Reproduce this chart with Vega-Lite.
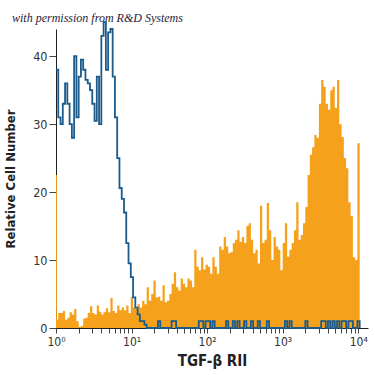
{
  "$schema": "https://vega.github.io/schema/vega-lite/v6.json",
  "width": 312,
  "height": 299,
  "autosize": {"type": "none"},
  "padding": {"left": 56, "top": 29, "right": 7, "bottom": 47},
  "background": "white",
  "title": {
    "text": "with permission from R&D Systems",
    "anchor": "start",
    "frame": "group",
    "dx": -44,
    "offset": -18,
    "baseline": "bottom",
    "font": "Liberation Serif",
    "fontStyle": "italic",
    "fontWeight": "normal",
    "fontSize": 12,
    "color": "#1c1c3c"
  },
  "config": {"view": {"stroke": null}},
  "data": {
    "values": [
      {"l": 0, "o": 22.5, "b": 38},
      {"l": 0.012, "o": 1.2, "b": 38},
      {"l": 0.03, "o": 2.2, "b": 31},
      {"l": 0.06, "o": 2.2, "b": 30},
      {"l": 0.09, "o": 2.5, "b": 33},
      {"l": 0.12, "o": 1.2, "b": 36},
      {"l": 0.15, "o": 1.5, "b": 33},
      {"l": 0.18, "o": 2.3, "b": 30},
      {"l": 0.21, "o": 2, "b": 28},
      {"l": 0.24, "o": 2.8, "b": 40},
      {"l": 0.27, "o": 1, "b": 31},
      {"l": 0.3, "o": 0.2, "b": 37},
      {"l": 0.33, "o": 0.3, "b": 39.5},
      {"l": 0.36, "o": 1.4, "b": 38},
      {"l": 0.39, "o": 1.5, "b": 36.5},
      {"l": 0.42, "o": 2.2, "b": 36},
      {"l": 0.45, "o": 3.2, "b": 35},
      {"l": 0.48, "o": 2.2, "b": 33},
      {"l": 0.51, "o": 2, "b": 30.5},
      {"l": 0.54, "o": 3.3, "b": 37},
      {"l": 0.57, "o": 2.4, "b": 30},
      {"l": 0.6, "o": 2, "b": 43},
      {"l": 0.63, "o": 2.3, "b": 45},
      {"l": 0.66, "o": 2.9, "b": 38},
      {"l": 0.69, "o": 2.3, "b": 43.5},
      {"l": 0.72, "o": 4.4, "b": 44},
      {"l": 0.75, "o": 2.5, "b": 37},
      {"l": 0.78, "o": 2.2, "b": 31},
      {"l": 0.81, "o": 3.3, "b": 25},
      {"l": 0.84, "o": 2.6, "b": 20.6},
      {"l": 0.87, "o": 3, "b": 19},
      {"l": 0.9, "o": 2.6, "b": 17},
      {"l": 0.93, "o": 3.3, "b": 12.5},
      {"l": 0.96, "o": 2.2, "b": 9.5},
      {"l": 0.99, "o": 4.6, "b": 7.5},
      {"l": 1.02, "o": 3, "b": 4.5},
      {"l": 1.05, "o": 2.8, "b": 3},
      {"l": 1.08, "o": 3.5, "b": 2},
      {"l": 1.11, "o": 3, "b": 1},
      {"l": 1.14, "o": 4, "b": 1},
      {"l": 1.17, "o": 3.5, "b": 0.5},
      {"l": 1.2, "o": 6, "b": 0},
      {"l": 1.23, "o": 4, "b": 0},
      {"l": 1.26, "o": 5, "b": 0},
      {"l": 1.29, "o": 7, "b": 0},
      {"l": 1.32, "o": 4.5, "b": 0},
      {"l": 1.35, "o": 4.6, "b": 1},
      {"l": 1.38, "o": 4, "b": 0},
      {"l": 1.41, "o": 6.3, "b": 0},
      {"l": 1.44, "o": 3.8, "b": 0},
      {"l": 1.47, "o": 4, "b": 0},
      {"l": 1.5, "o": 5, "b": 0},
      {"l": 1.53, "o": 6.5, "b": 1},
      {"l": 1.56, "o": 8.2, "b": 1},
      {"l": 1.59, "o": 6, "b": 0},
      {"l": 1.62, "o": 5.5, "b": 0},
      {"l": 1.65, "o": 7.3, "b": 0},
      {"l": 1.68, "o": 6.5, "b": 0},
      {"l": 1.71, "o": 6, "b": 0},
      {"l": 1.74, "o": 7.3, "b": 0},
      {"l": 1.77, "o": 7, "b": 0},
      {"l": 1.8, "o": 6, "b": 0},
      {"l": 1.83, "o": 11.5, "b": 0},
      {"l": 1.86, "o": 9, "b": 0},
      {"l": 1.89, "o": 8.5, "b": 1},
      {"l": 1.92, "o": 10.4, "b": 1},
      {"l": 1.95, "o": 8.6, "b": 0},
      {"l": 1.98, "o": 9.3, "b": 1},
      {"l": 2.01, "o": 9, "b": 1},
      {"l": 2.04, "o": 8, "b": 0},
      {"l": 2.07, "o": 10.4, "b": 1},
      {"l": 2.1, "o": 9, "b": 0},
      {"l": 2.13, "o": 8, "b": 0},
      {"l": 2.16, "o": 12, "b": 0},
      {"l": 2.19, "o": 11.5, "b": 0},
      {"l": 2.22, "o": 13.4, "b": 0},
      {"l": 2.25, "o": 12, "b": 1},
      {"l": 2.28, "o": 11, "b": 0},
      {"l": 2.31, "o": 11.2, "b": 0},
      {"l": 2.34, "o": 12.5, "b": 1},
      {"l": 2.37, "o": 13, "b": 0},
      {"l": 2.4, "o": 14.4, "b": 1},
      {"l": 2.43, "o": 12.7, "b": 0},
      {"l": 2.46, "o": 13.4, "b": 0},
      {"l": 2.49, "o": 12.5, "b": 1},
      {"l": 2.52, "o": 15, "b": 0},
      {"l": 2.55, "o": 15.4, "b": 0},
      {"l": 2.58, "o": 13, "b": 1},
      {"l": 2.61, "o": 11, "b": 0},
      {"l": 2.64, "o": 11.5, "b": 0},
      {"l": 2.67, "o": 9.5, "b": 1},
      {"l": 2.7, "o": 18, "b": 0},
      {"l": 2.73, "o": 12.5, "b": 0},
      {"l": 2.76, "o": 13, "b": 0},
      {"l": 2.79, "o": 18.4, "b": 1},
      {"l": 2.82, "o": 14.4, "b": 0},
      {"l": 2.85, "o": 10, "b": 0},
      {"l": 2.88, "o": 13.4, "b": 0},
      {"l": 2.91, "o": 12, "b": 0},
      {"l": 2.94, "o": 11.5, "b": 0},
      {"l": 2.97, "o": 8.5, "b": 0},
      {"l": 3, "o": 12.5, "b": 0},
      {"l": 3.03, "o": 15.4, "b": 1},
      {"l": 3.06, "o": 10.5, "b": 0},
      {"l": 3.09, "o": 11.5, "b": 1},
      {"l": 3.12, "o": 12.5, "b": 0},
      {"l": 3.15, "o": 14.4, "b": 0},
      {"l": 3.18, "o": 18.5, "b": 0},
      {"l": 3.21, "o": 13, "b": 0},
      {"l": 3.24, "o": 13.7, "b": 0},
      {"l": 3.27, "o": 15.4, "b": 0},
      {"l": 3.3, "o": 17.8, "b": 1},
      {"l": 3.33, "o": 22.5, "b": 0},
      {"l": 3.36, "o": 25.5, "b": 0},
      {"l": 3.39, "o": 26.6, "b": 0},
      {"l": 3.42, "o": 28.4, "b": 0},
      {"l": 3.45, "o": 28, "b": 0},
      {"l": 3.48, "o": 33, "b": 0},
      {"l": 3.51, "o": 36.5, "b": 1},
      {"l": 3.54, "o": 35.5, "b": 1},
      {"l": 3.57, "o": 33, "b": 0},
      {"l": 3.6, "o": 32.1, "b": 1},
      {"l": 3.63, "o": 35, "b": 0},
      {"l": 3.66, "o": 35.5, "b": 1},
      {"l": 3.69, "o": 32.4, "b": 0},
      {"l": 3.72, "o": 36.5, "b": 1},
      {"l": 3.75, "o": 30, "b": 0},
      {"l": 3.78, "o": 28.1, "b": 1},
      {"l": 3.81, "o": 25, "b": 1},
      {"l": 3.84, "o": 23.5, "b": 0},
      {"l": 3.87, "o": 18.5, "b": 1},
      {"l": 3.9, "o": 16.5, "b": 1},
      {"l": 3.93, "o": 10.4, "b": 0},
      {"l": 3.96, "o": 10, "b": 0},
      {"l": 3.99, "o": 27.2, "b": 1},
      {"l": 4.02, "o": 0, "b": 0}
    ]
  },
  "encoding": {
    "x": {
      "field": "l",
      "type": "quantitative",
      "scale": {"domain": [0, 4.13], "nice": false, "zero": false},
      "axis": {
        "title": "TGF-β RII",
        "titleFont": "Liberation Sans Narrow, DejaVu Sans Condensed, sans-serif",
        "titleFontSize": 15,
        "titleFontWeight": "bold",
        "titleColor": "#222",
        "titlePadding": 6,
        "values": [0, 0.30103, 0.47712, 0.60206, 0.69897, 0.77815, 0.8451, 0.90309, 0.95424,
                   1, 1.30103, 1.47712, 1.60206, 1.69897, 1.77815, 1.8451, 1.90309, 1.95424,
                   2, 2.30103, 2.47712, 2.60206, 2.69897, 2.77815, 2.8451, 2.90309, 2.95424,
                   3, 3.30103, 3.47712, 3.60206, 3.69897, 3.77815, 3.8451, 3.90309, 3.95424, 4],
        "labelExpr": "datum.value == 0 ? '10⁰' : datum.value == 1 ? '10¹' : datum.value == 2 ? '10²' : datum.value == 3 ? '10³' : datum.value == 4 ? '10⁴' : ''",
        "labelOverlap": false,
        "labelFlush": false,
        "labelFont": "Liberation Sans Narrow, DejaVu Sans Condensed, sans-serif",
        "labelFontSize": 12,
        "labelColor": "#333",
        "labelPadding": 3,
        "tickSize": 5,
        "tickColor": "#444",
        "domainColor": "#222",
        "grid": false
      }
    }
  },
  "layer": [
    {
      "mark": {"type": "area", "interpolate": "step-after", "color": "#f6a11c"},
      "encoding": {
        "y": {
          "field": "o",
          "type": "quantitative",
          "scale": {"domain": [0, 44], "nice": false},
          "axis": {
            "title": "Relative Cell Number",
            "titleFont": "Liberation Sans Narrow, DejaVu Sans Condensed, sans-serif",
            "titleFontSize": 13,
            "titleFontWeight": "bold",
            "titleColor": "#222",
            "titlePadding": 15,
            "values": [0, 10, 20, 30, 40],
            "labelFont": "Liberation Sans Narrow, DejaVu Sans Condensed, sans-serif",
            "labelFontSize": 12.5,
            "labelColor": "#333",
            "labelPadding": 2,
            "tickSize": 7,
            "tickColor": "#444",
            "domainColor": "#222",
            "grid": false
          }
        }
      }
    },
    {
      "mark": {"type": "line", "interpolate": "step-after", "color": "#1b5b8c", "strokeWidth": 1.8},
      "encoding": {
        "y": {
          "field": "b",
          "type": "quantitative",
          "scale": {"domain": [0, 44], "nice": false},
          "axis": {
            "title": "Relative Cell Number",
            "titleFont": "Liberation Sans Narrow, DejaVu Sans Condensed, sans-serif",
            "titleFontSize": 13,
            "titleFontWeight": "bold",
            "titleColor": "#222",
            "titlePadding": 15,
            "values": [0, 10, 20, 30, 40],
            "labelFont": "Liberation Sans Narrow, DejaVu Sans Condensed, sans-serif",
            "labelFontSize": 12.5,
            "labelColor": "#333",
            "labelPadding": 2,
            "tickSize": 7,
            "tickColor": "#444",
            "domainColor": "#222",
            "grid": false
          }
        }
      }
    }
  ]
}
